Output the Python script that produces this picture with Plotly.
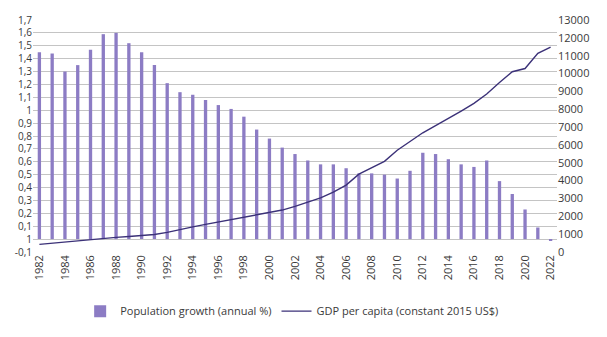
import plotly.graph_objects as go

years = list(range(1982, 2023))
pop_growth = [1.45, 1.44, 1.30, 1.35, 1.47, 1.59, 1.60, 1.52, 1.45, 1.35,
              1.21, 1.14, 1.12, 1.08, 1.04, 1.01, 0.95, 0.85, 0.78, 0.71,
              0.66, 0.61, 0.58, 0.58, 0.55, 0.51, 0.51, 0.50, 0.47, 0.53,
              0.67, 0.66, 0.62, 0.58, 0.56, 0.61, 0.45, 0.35, 0.23, 0.09,
              -0.01]
gdp_per_capita = [430, 500, 560, 620, 690, 750, 820, 870, 930, 980,
                  1100, 1270, 1410, 1550, 1680, 1820, 1950, 2080, 2220, 2350,
                  2560, 2780, 3030, 3350, 3750, 4360, 4720, 5080, 5700, 6200,
                  6680, 7080, 7480, 7900, 8330, 8850, 9500, 10100, 10280, 11130,
                  11480]

left_tickvals = [round(-0.1 + 0.1 * i, 1) for i in range(19)]
left_ticktext = ["-0,1", "1", "0,1", "0,2", "0,3", "0,4", "0,5", "0,6", "0,7",
                 "0,8", "0,9", "1", "1,1", "1,2", "1,3", "1,4", "1,5", "1,6", "1,7"]
right_tickvals = list(range(0, 14000, 1000))
right_ticktext = [str(v) for v in right_tickvals]
x_tickvals = [str(y) for y in range(1982, 2023, 2)]

font_family = "Open Sans"
text_color = "#3a3a3a"

fig = go.Figure()
fig.add_trace(go.Bar(
    x=[str(y) for y in years], y=pop_growth,
    name="Population growth (annual %)",
    marker=dict(color="#8c7cc4", line=dict(width=0)),
    width=0.26,
))
fig.add_trace(go.Scatter(
    x=[str(y) for y in years], y=gdp_per_capita,
    name="GDP per capita (constant 2015 US$)",
    mode="lines", line=dict(color="#3b3178", width=1.4),
    yaxis="y2",
))

fig.update_layout(
    width=607, height=337,
    margin=dict(l=33, r=50, t=17, b=77),
    paper_bgcolor="white", plot_bgcolor="white",
    font=dict(family=font_family, size=11, color=text_color),
    showlegend=True,
    legend=dict(orientation="h", x=0.09, xanchor="left", y=-0.255, yanchor="middle",
                font=dict(size=11, color=text_color), itemwidth=30),
    xaxis=dict(type="category", tickmode="array", tickvals=x_tickvals, tickangle=-90,
               showgrid=False, showline=False, ticks="", tickfont=dict(size=11),
               range=[-0.5, 40.5]),
    yaxis=dict(range=[-0.1, 1.7], tickmode="array", tickvals=left_tickvals,
               ticktext=left_ticktext, showgrid=True, gridcolor="#c4c4c4", gridwidth=1,
               zeroline=False, showline=False, ticks="", tickfont=dict(size=10)),
    yaxis2=dict(range=[0, 13000], overlaying="y", side="right", tickmode="array",
                tickvals=right_tickvals, ticktext=right_ticktext, showgrid=False,
                zeroline=False, showline=False, ticks="", tickfont=dict(size=11)),
)

fig.write_html("out.html")
